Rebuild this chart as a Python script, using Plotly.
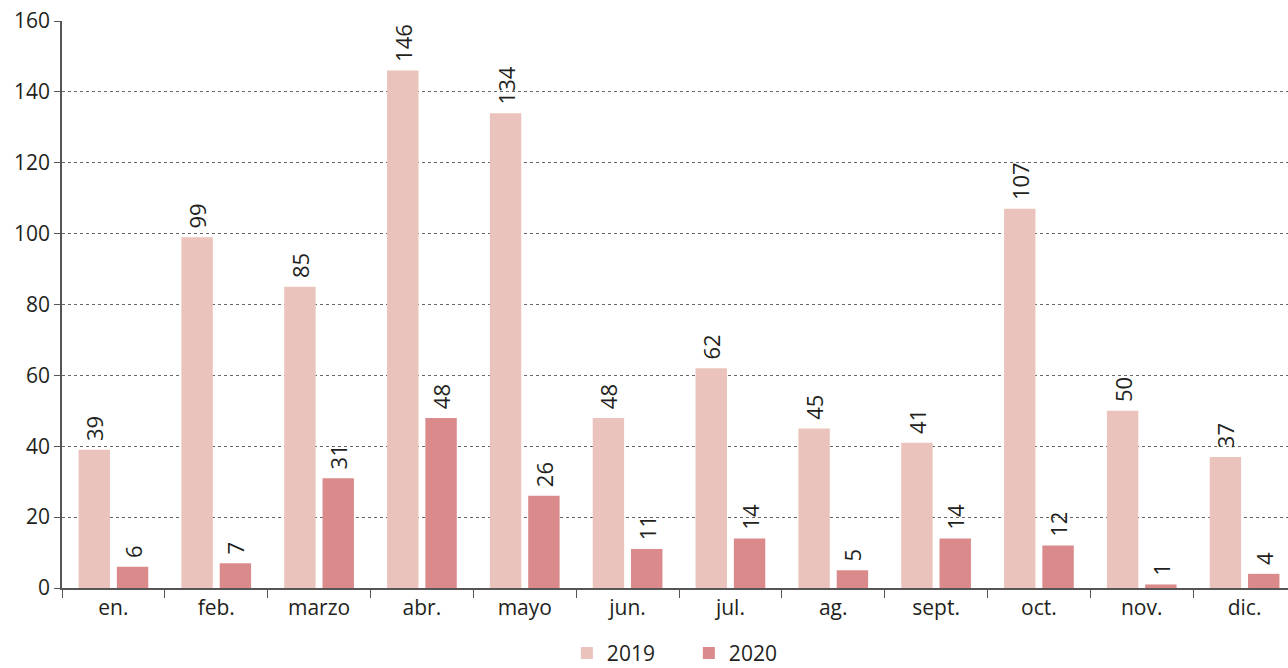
import plotly.graph_objects as go

months = ["en.", "feb.", "marzo", "abr.", "mayo", "jun.", "jul.", "ag.", "sept.", "oct.", "nov.", "dic."]
values_2019 = [39, 99, 85, 146, 134, 48, 62, 45, 41, 107, 50, 37]
values_2020 = [6, 7, 31, 48, 26, 11, 14, 5, 14, 12, 1, 4]

font_family = "Open Sans"
text_color = "#231F20"
fs = 21
fs_lab = 22

fig = go.Figure()
fig.add_trace(go.Bar(
    x=months, y=values_2019, name="2019",
    marker=dict(color="#EBC3BD", line=dict(width=0)),
    texttemplate="\u00a0%{y}", textposition="outside", textangle=-90,
    constraintext="none",
    textfont=dict(family=font_family, size=fs_lab, color=text_color),
    cliponaxis=False,
))
fig.add_trace(go.Bar(
    x=months, y=values_2020, name="2020",
    marker=dict(color="#DA8A8B", line=dict(width=0)),
    texttemplate="\u00a0%{y}", textposition="outside", textangle=-90,
    constraintext="none",
    textfont=dict(family=font_family, size=fs_lab, color=text_color),
    cliponaxis=False,
))

fig.update_layout(
    width=1296, height=668,
    margin=dict(l=62, r=0, t=21, b=80, autoexpand=False),
    plot_bgcolor="white", paper_bgcolor="white",
    barmode="group", bargap=0.255, bargroupgap=0.18,
    font=dict(family=font_family, size=fs, color=text_color),
    uniformtext=dict(mode=False),
    legend=dict(orientation="h", x=0.508, xanchor="center",
                yref="container", y=0.022, yanchor="middle",
                font=dict(size=fs), itemwidth=30, entrywidth=77, entrywidthmode="pixels",
                traceorder="normal"),
    showlegend=True,
)
fig.update_xaxes(
    type="category", tickson="boundaries", ticks="outside", ticklen=8,
    tickcolor="#555555", showline=True, linecolor="#555555", linewidth=1.5,
    showgrid=False, tickfont=dict(size=fs), automargin=False,
)
fig.update_yaxes(
    range=[0, 160], dtick=20, ticks="outside", ticklen=6, tickcolor="#555555",
    showline=True, linecolor="#555555", linewidth=1.5,
    showgrid=True, gridcolor="#666666", gridwidth=1, griddash="3px,3px",
    zeroline=False, tickfont=dict(size=fs), automargin=False,
)

fig.write_html(
    "out.html",
    config={"displayModeBar": False},
    post_script="document.body.style.margin='0';document.body.style.overflow='hidden';",
)
